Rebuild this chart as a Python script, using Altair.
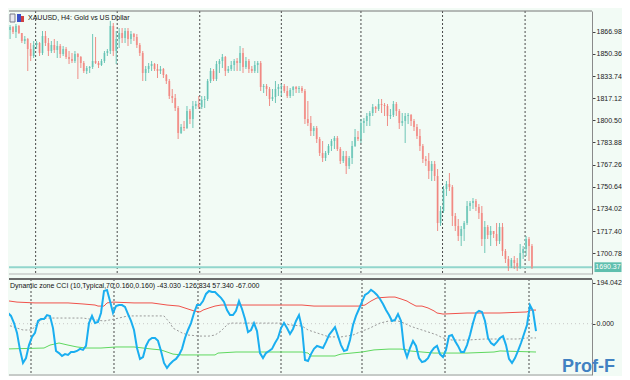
import altair as alt
import pandas as pd

# ---------------- data ----------------
closes = [
    1868.25, 1870.5, 1866.75, 1871.25, 1866, 1860, 1861.5, 1854, 1848.75, 1857,
    1858.5, 1851, 1863.75, 1858.5, 1852.5, 1857, 1853.25, 1856.25, 1850.25, 1854,
    1848, 1846.5, 1845, 1850.25, 1848, 1843.5, 1837.5, 1839.75, 1840.5, 1845,
    1843.5, 1842, 1845, 1851, 1852.5, 1871.25, 1852.5, 1861.5, 1866, 1862.25,
    1867.5, 1861.5, 1865.25, 1863, 1857, 1851, 1836, 1839, 1841.25, 1842.75,
    1839, 1837.5, 1839, 1834.5, 1830, 1818.75, 1817.25, 1809.75, 1791, 1795.5,
    1794.75, 1807.5, 1801.5, 1811.25, 1812.75, 1810.5, 1815.75, 1816.5, 1830, 1837.5,
    1831.5, 1842.75, 1845, 1848, 1837.5, 1839, 1842, 1845, 1843.5, 1851,
    1840.5, 1845, 1839, 1837.5, 1842, 1843.5, 1825.5, 1826.25, 1824, 1816.5,
    1818, 1824, 1825.5, 1826.25, 1822.5, 1818.75, 1823.25, 1825.5, 1824, 1824.75,
    1822.5, 1801.5, 1798.5, 1792.5, 1794.75, 1786.5, 1776, 1772.25, 1776, 1781.25,
    1785, 1787.25, 1779, 1770, 1773.75, 1766.25, 1772.25, 1781.25, 1788, 1786.5,
    1798.5, 1800, 1803.75, 1806, 1810.5, 1809, 1812.75, 1812, 1811.25, 1803.75,
    1804.5, 1812.75, 1807.5, 1798.5, 1800, 1803.75, 1804.5, 1800, 1795.5, 1788.75,
    1781.25, 1771.5, 1770, 1762.5, 1767.75, 1758.75, 1723.5, 1732.5, 1749, 1752.75,
    1750.5, 1728.75, 1721.25, 1713.75, 1719, 1723.5, 1736.25, 1738.5, 1740, 1735.5,
    1731, 1711.5, 1720.5, 1714.5, 1717.5, 1715.25, 1710, 1720.5, 1702.5, 1696.5,
    1691.25, 1695.75, 1693.5, 1690.5, 1701, 1704, 1711.5, 1706.25, 1690.37,
]
highs = [
    1873.5, 1872, 1871.25, 1872.75, 1872, 1866, 1863.75, 1862.25, 1858.5, 1860,
    1860, 1859.25, 1867.5, 1867.5, 1862.25, 1860, 1861.5, 1860, 1857.75, 1856.25,
    1855.5, 1852.5, 1851, 1852.5, 1851, 1848.75, 1845, 1841.25, 1841.25, 1865.25,
    1863, 1845, 1846.5, 1852.5, 1854, 1875, 1873.5, 1867.5, 1869.75, 1869.75,
    1869.75, 1869.75, 1867.5, 1866, 1865.25, 1858.5, 1852.5, 1841.25, 1843.5, 1845,
    1843.5, 1842.75, 1841.25, 1839.75, 1835.25, 1831.5, 1824, 1820.25, 1811.25, 1797.75,
    1800, 1811.25, 1809, 1815, 1815, 1818.75, 1818.75, 1818.75, 1831.5, 1839.75,
    1839, 1845, 1846.5, 1850.25, 1848.75, 1841.25, 1845, 1846.5, 1847.25, 1856.25,
    1854.75, 1848, 1846.5, 1841.25, 1845, 1845, 1845, 1827.75, 1827.75, 1825.5,
    1824, 1830, 1827.75, 1827.75, 1827.75, 1826.25, 1824.75, 1826.25, 1826.25, 1826.25,
    1826.25, 1824, 1815, 1803.75, 1796.25, 1796.25, 1788, 1785, 1777.5, 1782.75,
    1786.5, 1788.75, 1788.75, 1780.5, 1777.5, 1777.5, 1773.75, 1785, 1794, 1792.5,
    1801.5, 1802.25, 1806, 1807.5, 1812.75, 1811.25, 1816.5, 1816.5, 1813.5, 1812.75,
    1809, 1815, 1814.25, 1809, 1806, 1806, 1806, 1805.25, 1801.5, 1797.75,
    1794, 1782.75, 1773.75, 1776, 1770, 1770, 1764, 1736.25, 1751.25, 1755,
    1761, 1752, 1731, 1726.5, 1721.25, 1725, 1740, 1740, 1742.25, 1741.5,
    1737.75, 1736.25, 1725, 1722, 1721.25, 1717.5, 1723.5, 1723.5, 1723.5, 1704,
    1698.75, 1697.25, 1698.75, 1697.25, 1707.75, 1706.25, 1713.75, 1713, 1707.75,
]
lows = [
    1867.5, 1861.5, 1865.25, 1862.25, 1865.25, 1858.5, 1857.75, 1837.5, 1845, 1847.25,
    1854, 1848.75, 1849.5, 1856.25, 1848.75, 1851, 1851, 1847.25, 1847.25, 1848.75,
    1846.5, 1842.75, 1843.5, 1843.5, 1831.5, 1839.75, 1836, 1835.25, 1836, 1839,
    1842.75, 1839.75, 1841.25, 1843.5, 1848.75, 1850.25, 1848.75, 1842.75, 1854.75, 1858.5,
    1858.5, 1856.25, 1857.75, 1860, 1854.75, 1848.75, 1830, 1830, 1836, 1837.5,
    1837.5, 1832.25, 1835.25, 1832.25, 1827.75, 1816.5, 1813.5, 1807.5, 1786.5, 1790.25,
    1792.5, 1794, 1797.75, 1794.75, 1809, 1809, 1809, 1809.75, 1815, 1828.5,
    1830, 1830, 1836, 1839.75, 1833.75, 1836, 1837.5, 1837.5, 1837.5, 1837.5,
    1836, 1839, 1836, 1836, 1836, 1836, 1822.5, 1821, 1818.75, 1811.25,
    1815, 1813.5, 1818.75, 1818.75, 1821, 1817.25, 1817.25, 1818.75, 1821, 1821,
    1821, 1797.75, 1796.25, 1788.75, 1788.75, 1783.5, 1773.75, 1769.25, 1770, 1774.5,
    1777.5, 1779, 1777.5, 1767.75, 1768.5, 1760.25, 1764, 1767.75, 1780.5, 1785,
    1783.5, 1791, 1796.25, 1796.25, 1803.75, 1806, 1807.5, 1806, 1803.75, 1796.25,
    1801.5, 1803, 1803.75, 1794, 1796.25, 1783.5, 1797.75, 1796.25, 1792.5, 1786.5,
    1777.5, 1768.5, 1766.25, 1756.5, 1755, 1755, 1717.5, 1721.25, 1731, 1743.75,
    1747.5, 1721.25, 1717.5, 1710, 1706.25, 1710, 1722, 1732.5, 1734, 1732.5,
    1726.5, 1706.25, 1701, 1711.5, 1706.25, 1712.25, 1706.25, 1707.75, 1698.75, 1693.5,
    1687.5, 1689.75, 1689, 1687.5, 1689, 1696.5, 1698.75, 1695, 1689,
]
first_open = 1872.0
last_price = 1690.37
price_ticks = [1866.98, 1850.36, 1833.74, 1817.12, 1800.50, 1783.88, 1767.26,
               1750.64, 1734.02, 1717.40, 1700.78]

cci = [
    120, 70, 51, 37, 3, -44, -125, -187, -164, -102,
    -63, -44, 13, 22, 22, 41, 37, -21, -130, -140,
    -154, -145, -149, -135, -135, -130, -120, -125, -106, 3,
    37, 3, 8, 51, 156, 161, 108, 51, 84, 89,
    89, 80, 46, 13, -30, -116, -168, -159, -106, -78,
    -68, -68, -82, -130, -187, -211, -192, -178, -168, -149,
    -120, -68, -30, 3, 51, 89, 89, 108, 142, 156,
    151, 151, 137, 123, 104, 65, 41, 41, 61, 108,
    70, 22, -40, -30, 3, -35, -140, -164, -140, -130,
    -120, -92, -68, -21, 3, -21, -49, -25, 13, 41,
    -21, -173, -178, -145, -120, -106, -111, -116, -87, -54,
    -35, -16, -59, -102, -130, -125, -78, -6, 37, 70,
    104, 137, 146, 161, 151, 137, 118, 94, 65, 41,
    13, 18, 46, 13, -116, -159, -116, -82, -106, -164,
    -183, -178, -164, -135, -116, -106, -145, -159, -125, -59,
    -54, -82, -106, -135, -135, -102, -54, 3, 51, 61,
    56, 13, -68, -92, -102, -87, -68, -59, -102, -168,
    -187, -164, -130, -92, -49, -6, 88, 60, -35,
]
upper_idx = [0, 5, 11, 22, 27, 31, 32, 34, 35, 37, 44, 50, 55, 59, 62, 64, 66, 67, 69, 71,
             73, 100, 104, 119, 121, 123, 125, 129, 131, 133, 135, 136, 138, 140, 142, 144,
             145, 147, 155, 166, 175, 176, 178]
upper_val = [113, 103, 99, 99, 94, 89, 84, 84, 99, 103, 99, 99, 89, 84, 70, 61, 56, 65, 75, 84,
             89, 89, 84, 84, 89, 108, 123, 127, 127, 118, 108, 99, 84, 84, 75, 61,
             51, 46, 51, 51, 56, 65, 65]
lower_idx = [0, 14, 16, 19, 22, 25, 28, 33, 38, 44, 50, 53, 55, 57, 60, 71, 72, 78, 100, 102,
             103, 111, 112, 113, 120, 124, 129, 133, 135, 136, 140, 144, 155, 164, 166, 178]
lower_val = [-121, -116, -102, -92, -102, -111, -116, -116, -111, -111, -121, -125, -135, -145,
             -149, -149, -140, -135, -135, -140, -154, -154, -149, -145, -135, -125, -121, -121,
             -125, -130, -135, -140, -140, -135, -130, -135]
mid_idx = [0, 3, 5, 7, 10, 11, 12, 13, 15, 27, 31, 34, 36, 39, 42, 54, 56, 57, 60, 62, 66, 69,
           71, 73, 75, 76, 93, 96, 100, 102, 105, 109, 113, 117, 120, 122, 124, 126, 129, 132,
           134, 136, 138, 140, 143, 145, 147, 150, 155, 161, 166, 172, 175, 178]
mid_val = [-6, -11, -21, -30, -30, -11, 3, 18, 27, 27, 18, 13, 18, 27, 37, 37, 3, -21, -44, -54,
           -59, -59, -54, -35, -6, 3, 3, -6, -11, -30, -44, -63, -63, -54, -35, -25, -11, 3, 13,
           13, 3, -11, -21, -30, -44, -54, -68, -78, -78, -73, -73, -73, -68, -68]
cci_ticks = [194.042, 0.0]
separators = [9.67, 37.33, 65.33, 93.0, 120.0, 147.67, 175.67]

title_text = "XAUUSD, H4:  Gold vs US Dollar"
ind_text = "Dynamic zone CCI (10,Typical,70,0.160,0.160) -43.030 -126.834 57.340 -67.000"

# ---------------- styling ----------------
BG = "#f2fbf5"
FONT = "Liberation Sans"
UP_BODY, UP_WICK = "#96d9ce", "#58bcab"
DN_BODY, DN_WICK = "#f5aca7", "#ee7a73"
W, H1, H2 = 583, 263, 96
X_DOMAIN = [2.333, 2.333 + W / 3.0]

opens = [first_open] + closes[:-1]
bars = pd.DataFrame({"i": list(range(len(closes))), "o": opens, "h": highs,
                     "l": lows, "c": closes})
sep_df = pd.DataFrame({"i": separators})
last_df = pd.DataFrame({"p": [last_price], "t": [f"{last_price:.2f}"]})
cci_df = pd.DataFrame({"i": list(range(len(cci))), "v": cci})
up_df = pd.DataFrame({"i": upper_idx, "v": upper_val})
lo_df = pd.DataFrame({"i": lower_idx, "v": lower_val})
mid_df = pd.DataFrame({"i": mid_idx, "v": mid_val})

xs = alt.Scale(domain=X_DOMAIN, nice=False, zero=False)
X = alt.X("i:Q", scale=xs, axis=None)
yp = alt.Scale(domain=[1685.25, 1882.5], nice=False, zero=False)
yc = alt.Scale(domain=[-244.6, 213.1], nice=False, zero=False)

axis_style = dict(orient="right", title=None, grid=False, labelFont=FONT, labelFontSize=7,
                  labelColor="#1a1a1a", tickSize=3, tickColor="#444",
                  domainColor="#8a8a8a", labelPadding=1, labelOverlap=False,
                  labelFlush=False, labelBound=False)
price_axis = alt.Axis(values=price_ticks, format=".2f", **axis_style)
cci_axis = alt.Axis(values=cci_ticks, format=".3f", **axis_style)


def YP(field):
    return alt.Y(field, scale=yp, axis=price_axis)


def YC(field):
    return alt.Y(field, scale=yc, axis=cci_axis)


# ---- top panel ----
seps_top = alt.Chart(sep_df).mark_rule(color="#4a4a4a", strokeDash=[2, 2],
                                       strokeWidth=1).encode(x=X)
last_line = alt.Chart(last_df).mark_rule(color="#92d6cc", strokeWidth=2).encode(y=YP("p:Q"))
bodies = alt.Chart(bars).mark_bar(size=2, clip=True).encode(
    x=X, y=YP("o:Q"), y2="c:Q",
    color=alt.condition("datum.c >= datum.o", alt.value(UP_BODY), alt.value(DN_BODY)))
wicks = alt.Chart(bars).mark_rule(strokeWidth=1, clip=True, opacity=0.85).encode(
    x=X, y=YP("h:Q"), y2="l:Q",
    color=alt.condition("datum.c >= datum.o", alt.value(UP_WICK), alt.value(DN_WICK)))
title_mark = alt.Chart(pd.DataFrame({"t": [title_text]})).mark_text(
    align="left", baseline="middle", font=FONT, fontSize=7, color="#111").encode(
    x=alt.value(19), y=alt.value(7), text="t:N")
icon1 = alt.Chart(pd.DataFrame({"a": [0]})).mark_rect(
    fill="#e8e8f0", stroke="#7a7a8a", strokeWidth=1).encode(
    x=alt.value(1), x2=alt.value(6), y=alt.value(3), y2=alt.value(11))
icon2 = alt.Chart(pd.DataFrame({"a": [0]})).mark_rect(fill="#3a50c8").encode(
    x=alt.value(8), x2=alt.value(12), y=alt.value(3), y2=alt.value(11))
icon3 = alt.Chart(pd.DataFrame({"a": [0]})).mark_rect(fill="#d04040").encode(
    x=alt.value(12), x2=alt.value(15), y=alt.value(5), y2=alt.value(11))
box_path = "M-1,-0.36L1,-0.36L1,0.36L-1,0.36Z"
last_box = alt.Chart(last_df).mark_point(shape=box_path, size=729, filled=True,
                                         opacity=1, color="#5fbfae").encode(
    x=alt.value(W + 16), y=YP("p:Q"))
last_txt = alt.Chart(last_df).mark_text(font=FONT, fontSize=7, color="#ffffff").encode(
    x=alt.value(W + 16), y=YP("p:Q"), text="t:N")
top_line = alt.Chart(pd.DataFrame({"a": [0]})).mark_rule(color="#777", strokeWidth=1).encode(
    x=alt.value(0), x2=alt.value(W), y=alt.value(0))
bot_line = alt.Chart(pd.DataFrame({"a": [0]})).mark_rule(color="#b5b5b5", strokeWidth=1).encode(
    x=alt.value(0), x2=alt.value(W), y=alt.value(H1))

top = alt.layer(seps_top, last_line, bodies, wicks, title_mark, icon1, icon2, icon3,
                last_box, last_txt, top_line, bot_line).properties(width=W, height=H1)

# ---- bottom panel ----
seps_bot = alt.Chart(sep_df).mark_rule(color="#4a4a4a", strokeDash=[2, 2],
                                       strokeWidth=1).encode(x=X)
zero_line = alt.Chart(pd.DataFrame({"z": [0.0]})).mark_rule(
    color="#c8c8c8", strokeDash=[1, 3]).encode(y=YC("z:Q"))
mid_line = alt.Chart(mid_df).mark_line(color="#9a9a9a", strokeWidth=1, strokeDash=[2, 2],
                                       clip=True).encode(x=X, y=YC("v:Q"))
lo_line = alt.Chart(lo_df).mark_line(color="#5fd85f", strokeWidth=1, clip=True).encode(
    x=X, y=YC("v:Q"))
up_line = alt.Chart(up_df).mark_line(color="#f0524b", strokeWidth=1, clip=True).encode(
    x=X, y=YC("v:Q"))
cci_line = alt.Chart(cci_df).mark_line(color="#1aaef0", strokeWidth=2, clip=True).encode(
    x=X, y=YC("v:Q"))
ind_mark = alt.Chart(pd.DataFrame({"t": [ind_text]})).mark_text(
    align="left", baseline="middle", font=FONT, fontSize=7, color="#111").encode(
    x=alt.value(1), y=alt.value(7), text="t:N")
sep_line = alt.Chart(pd.DataFrame({"a": [0]})).mark_rule(color="#6a6a6a", strokeWidth=2).encode(
    x=alt.value(0), x2=alt.value(W), y=alt.value(0))
end_line = alt.Chart(pd.DataFrame({"a": [0]})).mark_rule(color="#9a9a9a", strokeWidth=1).encode(
    x=alt.value(0), x2=alt.value(W), y=alt.value(H2))
logo = alt.Chart(pd.DataFrame({"t": ["Prof-F"]})).mark_text(
    align="left", baseline="bottom", font=FONT, fontSize=18, fontWeight="bold",
    color="#2e74bd", opacity=0.9).encode(x=alt.value(W - 30), y=alt.value(H2 + 1), text="t:N")

bottom = alt.layer(seps_bot, zero_line, mid_line, lo_line, up_line, cci_line, ind_mark,
                   sep_line, end_line, logo).properties(width=W, height=H2)

chart = alt.vconcat(top, bottom, spacing=3).properties(
    background=BG, padding={"left": 0, "top": 2, "right": 0, "bottom": 0}
).configure_view(stroke=None).configure_axis(labelOverlap=False)

chart.save("out.html", embed_options={"renderer": "svg", "actions": False})
